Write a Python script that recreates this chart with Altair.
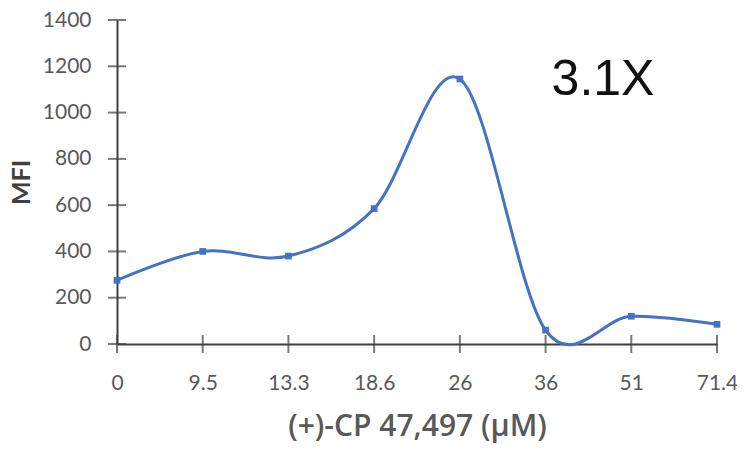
import pandas as pd
import altair as alt

# Konzentrationen (x-Kategorien) und gemessene MFI-Werte
concentrations = ["0", "9.5", "13.3", "18.6", "26", "36", "51", "71.4"]
mfi = [275, 400, 380, 585, 1145, 60, 120, 85]
y_ticks = [0, 200, 400, 600, 800, 1000, 1200, 1400]
note = "3.1X"

df = pd.DataFrame({"conc": concentrations, "mfi": mfi})
ticks_df = pd.DataFrame({"v": y_ticks})

blue = "#4472C4"
grey = "#595959"
dark = "#404040"
font = "Lato"

x_enc = alt.X("conc:N", sort=concentrations,
              scale=alt.Scale(type="point", padding=0),
              axis=alt.Axis(title="(+)-CP 47,497 (μM)", labelAngle=0, ticks=False,
                            labelPadding=28, titlePadding=18, titleFontSize=30,
                            titleFont="Open Sans", titleFontWeight=600, titleColor=grey))
y_enc = alt.Y("mfi:Q", scale=alt.Scale(domain=[0, 1400], nice=False, clamp=False),
              axis=alt.Axis(title="MFI", values=y_ticks, format="d", ticks=False, grid=False,
                            labelPadding=26, titlePadding=8, titleFontSize=25,
                            titleFont=font, titleFontWeight="bold", titleColor=dark))

# geglaettete Linie wie in Excel
line = alt.Chart(df).mark_line(interpolate="cardinal", color=blue, strokeWidth=3).encode(
    x=x_enc, y=y_enc)
points = alt.Chart(df).mark_point(shape="square", filled=True, color=blue, size=45, opacity=1).encode(
    x=alt.X("conc:N", sort=concentrations), y="mfi:Q")

# Kreuzende Teilstriche an beiden Achsen
xticks = alt.Chart(df).mark_tick(orient="vertical", color=dark, size=18, thickness=2).encode(
    x=alt.X("conc:N", sort=concentrations), y=alt.datum(0))
yticks = alt.Chart(ticks_df).mark_tick(orient="horizontal", color=dark, size=18, thickness=2).encode(
    y=alt.Y("v:Q"), x=alt.datum("0"))

label = alt.Chart(pd.DataFrame({"t": [note]})).mark_text(
    align="left", baseline="alphabetic", fontSize=50, font="Liberation Sans", color="#111111", dx=6
).encode(x=alt.datum("36"), y=alt.datum(1076), text="t:N")

chart = alt.layer(line, xticks, yticks, points, label).properties(
    width=600, height=324,
    padding={"left": 109, "top": 12, "right": 20, "bottom": 100},
    autosize=alt.AutoSizeParams(type="none"),
).configure_view(stroke=None).configure_axis(
    domainColor=dark, domainWidth=2, labelColor=grey, labelFont=font, labelFontSize=21,
)

chart.save("out.html", embed_options={"renderer": "svg", "actions": False})
